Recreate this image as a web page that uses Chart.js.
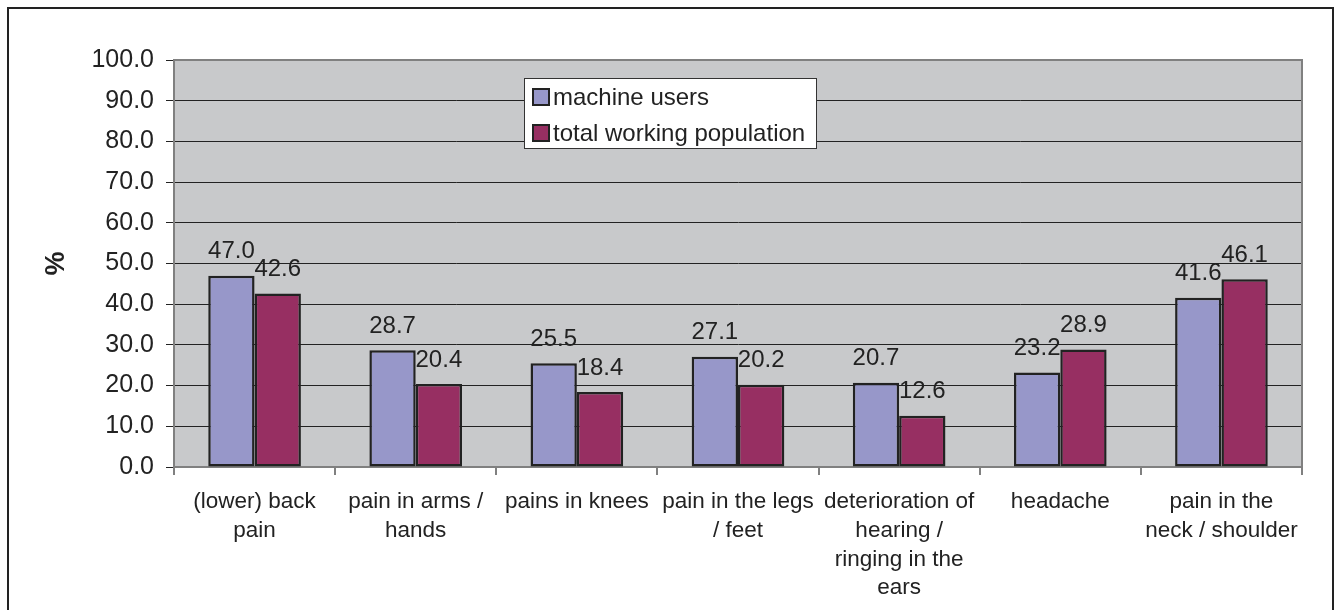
<!DOCTYPE html>
<html>
<head>
<meta charset="utf-8">
<script src="https://cdn.jsdelivr.net/npm/chart.js@4/dist/chart.umd.min.js"></script>
<style>
  html, body { margin: 0; padding: 0; background: #ffffff; }
  canvas { display: block; }
</style>
</head>
<body>
<canvas id="c" width="1340" height="610"></canvas>
<script>
const categories = [
  ["(lower) back", "pain"],
  ["pain in arms /", "hands"],
  ["pains in knees"],
  ["pain in the legs", "/ feet"],
  ["deterioration of", "hearing /", "ringing in the", "ears"],
  ["headache"],
  ["pain in the", "neck / shoulder"]
];
const seriesNames = ["machine users", "total working population"];
const machineUsers = [47.0, 28.7, 25.5, 27.1, 20.7, 23.2, 41.6];
const totalWorking = [42.6, 20.4, 18.4, 20.2, 12.6, 28.9, 46.1];
const yTicks = [0, 10, 20, 30, 40, 50, 60, 70, 80, 90, 100];
const yTitle = "%";

const FONT = "'Liberation Sans', Arial, Helvetica, sans-serif";
Chart.defaults.font.family = FONT;
Chart.defaults.color = "#222222";

const framePlugin = {
  id: "frame",
  beforeDraw(chart) {
    const ctx = chart.ctx, a = chart.chartArea;
    ctx.save();
    ctx.fillStyle = "#ffffff";
    ctx.fillRect(0, 0, chart.width, chart.height);
    ctx.strokeStyle = "#222222";
    ctx.lineWidth = 2;
    ctx.strokeRect(8, 8, 1325, 640);
    ctx.fillStyle = "#c8c9cb";
    ctx.fillRect(a.left, a.top, a.right - a.left, a.bottom - a.top);
    ctx.restore();
  },
  afterDatasetsDraw(chart) {
    const ctx = chart.ctx, a = chart.chartArea;
    ctx.save();
    ctx.strokeStyle = "#808080";
    ctx.lineWidth = 2;
    ctx.beginPath();
    ctx.moveTo(a.left, a.top);
    ctx.lineTo(a.right, a.top);
    ctx.lineTo(a.right, a.bottom);
    ctx.stroke();
    ctx.restore();
  }
};

const valueLabelPlugin = {
  id: "valueLabels",
  afterDatasetsDraw(chart) {
    const ctx = chart.ctx;
    ctx.save();
    ctx.font = "24px " + FONT;
    ctx.fillStyle = "#222222";
    ctx.textAlign = "center";
    ctx.textBaseline = "middle";
    chart.data.datasets.forEach((ds, i) => {
      const meta = chart.getDatasetMeta(i);
      meta.data.forEach((bar, j) => {
        ctx.fillText(ds.data[j].toFixed(1), bar.x, bar.y - 24);
      });
    });
    ctx.restore();
  }
};

const legendPlugin = {
  id: "boxLegend",
  afterDraw(chart) {
    const ctx = chart.ctx;
    ctx.save();
    ctx.fillStyle = "#ffffff";
    ctx.fillRect(524, 78, 293, 71);
    ctx.strokeStyle = "#333333";
    ctx.lineWidth = 1;
    ctx.strokeRect(524.5, 78.5, 292, 70);
    ctx.font = "24px " + FONT;
    ctx.textBaseline = "middle";
    ctx.textAlign = "left";
    chart.data.datasets.forEach((ds, i) => {
      const cy = 97 + i * 36;
      ctx.fillStyle = ds.backgroundColor;
      ctx.fillRect(533, cy - 8, 16, 16);
      ctx.strokeStyle = "#222222";
      ctx.lineWidth = 2;
      ctx.strokeRect(533, cy - 8, 16, 16);
      ctx.fillStyle = "#222222";
      ctx.fillText(ds.label, 553, cy + 1);
    });
    ctx.restore();
  }
};

new Chart(document.getElementById("c"), {
  type: "bar",
  data: {
    labels: categories,
    datasets: [
      { label: seriesNames[0], data: machineUsers, backgroundColor: "#9797c9", borderColor: "#222222", borderWidth: 2.5 },
      { label: seriesNames[1], data: totalWorking, backgroundColor: "#972f62", borderColor: "#222222", borderWidth: 2.5 }
    ]
  },
  options: {
    responsive: false,
    animation: false,
    events: [],
    layout: { padding: { top: 60, right: 38, left: 0, bottom: 0 } },
    datasets: { bar: { categoryPercentage: 0.575, barPercentage: 1.0, borderSkipped: false } },
    plugins: { legend: { display: false }, tooltip: { enabled: false } },
    scales: {
      x: {
        afterFit(s) { s.height = 143; },
        grid: { offset: true, drawOnChartArea: false, drawTicks: true, tickLength: 8, color: "#808080", lineWidth: 2 },
        border: { color: "#808080", width: 2 },
        ticks: { font: { size: 22.5, lineHeight: 1.27 }, color: "#222222", padding: 13, maxRotation: 0, autoSkip: false }
      },
      y: {
        min: 0, max: 100,
        afterFit(s) { s.width = 174; },
        afterBuildTicks(s) { s.ticks = yTicks.map(v => ({ value: v })); },
        grid: { color: "#222222", lineWidth: 1, tickLength: 8, tickColor: "#222222" },
        border: { color: "#808080", width: 2 },
        ticks: { font: { size: 25 }, color: "#222222", padding: 12, callback: v => Number(v).toFixed(1) },
        title: { display: true, text: yTitle, font: { size: 27, weight: "bold" }, color: "#222222", padding: { top: 40, bottom: 0 } }
      }
    }
  },
  plugins: [framePlugin, valueLabelPlugin, legendPlugin]
});
</script>
</body>
</html>
